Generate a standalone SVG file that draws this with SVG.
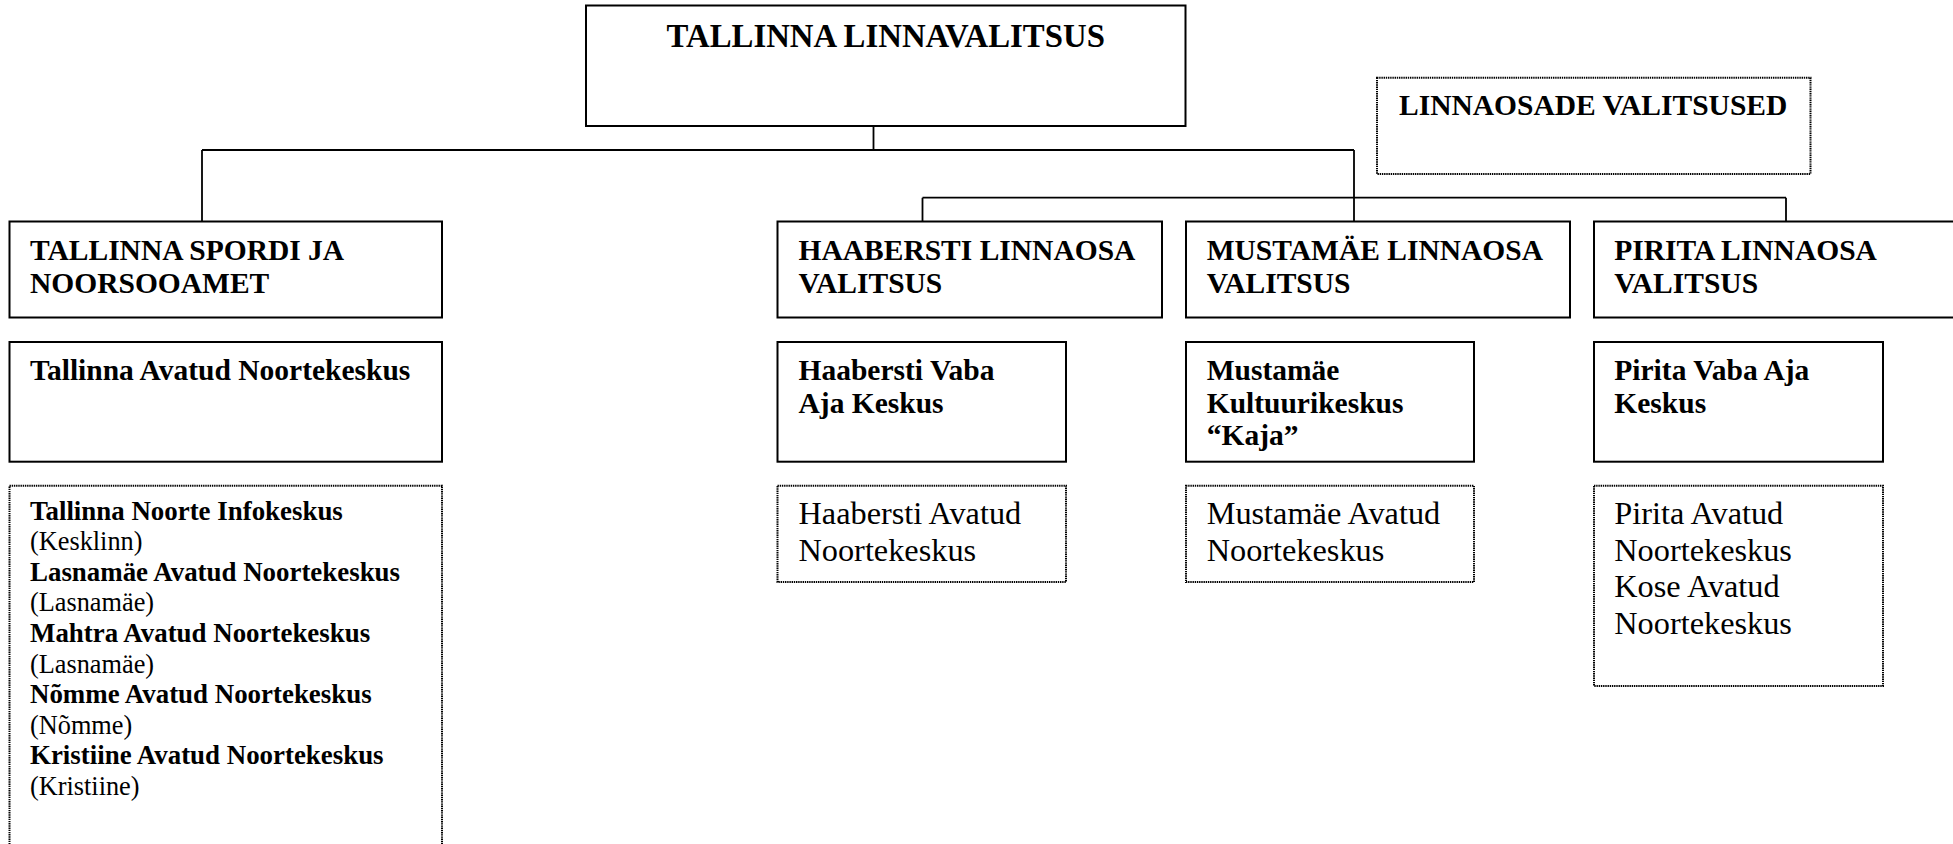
<svg xmlns="http://www.w3.org/2000/svg" width="1953" height="844" viewBox="0 0 1953 844">
<style>
.box{fill:#fff;stroke:#000;stroke-width:2}
.dot{fill:#fff;stroke:#000;stroke-width:2;stroke-dasharray:1.4 0.8}
.ln{fill:none;stroke:#000;stroke-width:1.8}
text{font-family:"Liberation Serif","Times New Roman",serif;fill:#000}
.b{font-weight:bold;font-size:29.5px}
.t{font-weight:bold;font-size:32.8px}
.s{font-size:26.3px}
.sb{font-size:26.9px;font-weight:bold}
.r{font-size:32.3px}
</style>
<rect width="1953" height="844" fill="#fff"/>
<g id="connectors">
<path class="ln" d="M873.5,126 V150 M202,150 H1354 M202,150 V221.5 M1354,150 V221.5 M922.5,197.7 H1786 M922.5,197.7 V221.5 M1786,197.7 V221.5"/>
</g>
<g id="linnavalitsus">
<rect class="box" x="586" y="5.5" width="599.5" height="120.5"/>
<text class="t" x="885.7" y="46.7" text-anchor="middle">TALLINNA LINNAVALITSUS</text>
</g>
<g id="linnaosade-valitsused">
<rect class="dot" x="1377" y="77.7" width="433.5" height="96.3"/>
<text class="b" x="1399" y="115">LINNAOSADE VALITSUSED</text>
</g>
<g id="spordi">
<rect class="box" x="9.5" y="221.5" width="432.5" height="96"/>
<text class="b" x="30" y="260">TALLINNA SPORDI JA</text>
<text class="b" x="30" y="293">NOORSOOAMET</text>
</g>
<g id="haabersti">
<rect class="box" x="777.5" y="221.5" width="384.5" height="96"/>
<text class="b" x="798.5" y="260">HAABERSTI LINNAOSA</text>
<text class="b" x="798.5" y="293">VALITSUS</text>
</g>
<g id="mustamae">
<rect class="box" x="1186" y="221.5" width="384" height="96"/>
<text class="b" x="1206.7" y="260">MUSTAMÄE LINNAOSA</text>
<text class="b" x="1206.7" y="293">VALITSUS</text>
</g>
<g id="pirita">
<rect class="box" x="1594" y="221.5" width="380" height="96"/>
<text class="b" x="1614.3" y="260">PIRITA LINNAOSA</text>
<text class="b" x="1614.3" y="293">VALITSUS</text>
</g>
<g id="tallinna-ank">
<rect class="box" x="9.5" y="342" width="432.5" height="119.7"/>
<text class="b" x="30" y="379.5">Tallinna Avatud Noortekeskus</text>
</g>
<g id="haabersti-vak">
<rect class="box" x="777.5" y="342" width="288.5" height="119.7"/>
<text class="b" x="798.5" y="379.5">Haabersti Vaba</text>
<text class="b" x="798.5" y="413">Aja Keskus</text>
</g>
<g id="mustamae-kk">
<rect class="box" x="1186" y="342" width="288" height="119.7"/>
<text class="b" x="1206.7" y="380">Mustamäe</text>
<text class="b" x="1206.7" y="412.7">Kultuurikeskus</text>
<text class="b" x="1206.7" y="445">“Kaja”</text>
</g>
<g id="pirita-vak">
<rect class="box" x="1594" y="342" width="289" height="119.7"/>
<text class="b" x="1614.3" y="379.5">Pirita Vaba Aja</text>
<text class="b" x="1614.3" y="413">Keskus</text>
</g>
<g id="tallinna-list">
<rect class="dot" x="9.5" y="485.7" width="432.5" height="420"/>
<text class="sb" x="30" y="519.5">Tallinna Noorte Infokeskus</text>
<text class="s" x="30" y="550.1">(Kesklinn)</text>
<text class="sb" x="30" y="580.7">Lasnamäe Avatud Noortekeskus</text>
<text class="s" x="30" y="611.3">(Lasnamäe)</text>
<text class="sb" x="30" y="641.9">Mahtra Avatud Noortekeskus</text>
<text class="s" x="30" y="672.5">(Lasnamäe)</text>
<text class="sb" x="30" y="703.1">Nõmme Avatud Noortekeskus</text>
<text class="s" x="30" y="733.7">(Nõmme)</text>
<text class="sb" x="30" y="764.3">Kristiine Avatud Noortekeskus</text>
<text class="s" x="30" y="794.9">(Kristiine)</text>
</g>
<g id="haabersti-ank">
<rect class="dot" x="777.5" y="485.7" width="288.5" height="96.3"/>
<text class="r" x="798.5" y="524">Haabersti Avatud</text>
<text class="r" x="798.5" y="560.7">Noortekeskus</text>
</g>
<g id="mustamae-ank">
<rect class="dot" x="1186" y="485.7" width="288" height="96.3"/>
<text class="r" x="1206.7" y="524">Mustamäe Avatud</text>
<text class="r" x="1206.7" y="560.7">Noortekeskus</text>
</g>
<g id="pirita-ank">
<rect class="dot" x="1594" y="485.7" width="289" height="200.3"/>
<text class="r" x="1614.3" y="524">Pirita Avatud</text>
<text class="r" x="1614.3" y="560.7">Noortekeskus</text>
<text class="r" x="1614.3" y="597.3">Kose Avatud</text>
<text class="r" x="1614.3" y="634">Noortekeskus</text>
</g>
</svg>
